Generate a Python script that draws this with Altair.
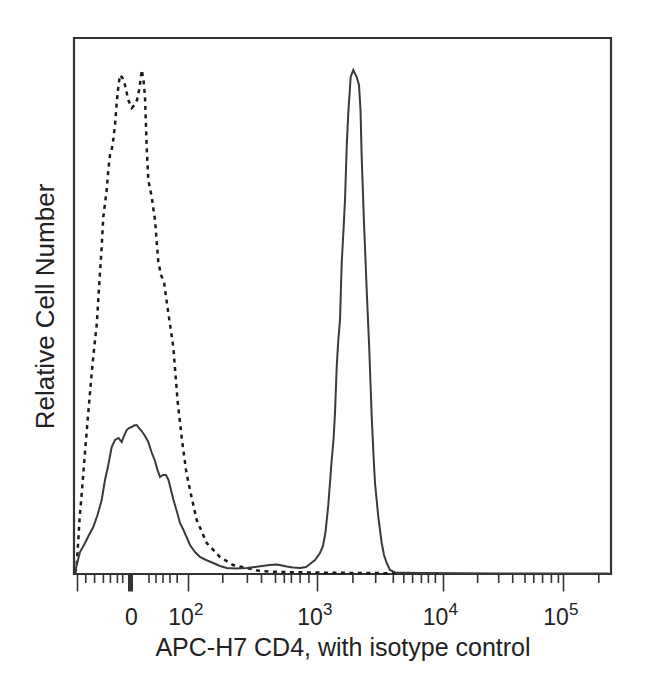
import altair as alt
import pandas as pd

# x: position along the biexponential display scale (0..537 display units)
# y: relative cell number (0..536 display units)
iso_x = [1, 2.5, 4, 5.5, 8, 11, 14.5, 17.7, 20.5, 22.7, 25.5, 27.5, 29.3, 32.7, 34.3, 36, 38, 39.5,
         41, 42.7, 44.5, 46, 48.5, 51, 54.3, 57.7, 60.5, 63, 65.5, 67.7, 69.5, 71, 72.7, 74.3, 77.7,
         81, 84.3, 87, 90, 94.3, 99.3, 103.5, 108, 112, 116, 122.7, 132.7, 146, 159, 172.7, 186,
         206, 236, 286, 366]
iso_y = [1, 6, 29, 54, 84, 122, 164, 201, 229, 249, 294, 324, 357, 384, 404, 419, 426, 436,
         449, 471, 489, 499, 496, 489, 474, 466, 469, 474, 486, 504, 494, 477, 427, 394, 377,
         354, 312, 299, 292, 261, 227, 174, 134, 104, 84, 54, 31, 17, 9, 6, 3,
         2, 1.5, 1, 0.5]

cd4_x = [1, 2.7, 6, 11, 15, 19.3, 23.5, 27.7, 31, 34.3, 37.7, 41, 44.5, 47.7, 50, 52.7, 55, 57.7,
         60, 62.7, 65, 67.7, 71, 74.3, 77.5, 81, 83.5, 86, 89, 92, 94.5, 97, 99.5, 103, 106, 109.5,
         113, 116, 121, 126, 132, 139.3, 146, 152.7, 162, 172.7, 181, 188, 196, 202.7, 208, 212.7,
         219, 226, 232, 236, 241, 246, 249, 251.5, 254.3, 257.7, 259.5, 261, 262.7, 264.3, 266,
         267.7, 269.5, 271, 272.7, 274.3, 276.7, 279.3, 282.7, 285, 286.5, 287.7, 290, 292.7,
         295.3, 297.7, 299.5, 301, 304.3, 307.7, 310, 312.7, 316, 321, 346, 426, 535]
cd4_y = [2, 9, 22, 31, 39, 47, 59, 74, 94, 109, 127, 134, 136, 132, 138, 144, 146, 147,
         148.5, 149, 146, 143, 138, 132, 122, 113, 104, 97, 99, 99, 94, 84, 74, 62, 51, 44,
         36, 29, 22, 17, 14, 11, 8, 6, 5.5, 6, 7, 8, 9, 9.5, 8.5, 7.5,
         6.5, 6, 7, 10, 14, 21, 28, 42, 69, 114, 134, 161, 207, 234, 254,
         311, 344, 374, 427, 461, 497, 504, 497, 489, 464, 417, 351, 284,
         224, 157, 119, 91, 57, 31, 19, 11, 4, 1.5, 1, 0.5, 0.5]

# axis ticks (display positions) and labels
major_ticks = [2.5, 55.5, 114, 243, 368.5, 489]
zero_tick = [55.5]
zero_label = ["0"]
decade_ticks = [114, 243, 368.5, 489]
decade_base = ["10", "10", "10", "10"]
decade_exp = ["2", "3", "4", "5"]
minor_ticks = [11.8, 20.6, 29.4, 36.4, 43.4, 48.7,
               75, 82, 89, 96, 103.2,
               148.8, 173.4, 187.5, 201.5, 210.3, 217.4, 226.1, 234.9,
               278.9, 301.7, 319.3, 329.8, 338.6, 347.4, 354.4, 361.4,
               403.6, 424.7, 438.7, 451, 459.8, 468.6, 477.4, 484.4,
               524.8]

iso = pd.DataFrame({"x": iso_x, "y": iso_y})
cd4 = pd.DataFrame({"x": cd4_x, "y": cd4_y})
minor_df = pd.DataFrame({"x": minor_ticks})
zero_df = pd.DataFrame({"x": zero_tick, "t": zero_label})
dec_df = pd.DataFrame({"x": decade_ticks, "b": decade_base, "e": decade_exp})

FONT = "Liberation Sans"
INK = "#222222"
H = 536

x_enc = alt.X(
    "x:Q",
    scale=alt.Scale(domain=[0, 537], nice=False, zero=False),
    axis=alt.Axis(
        title="APC-H7 CD4, with isotype control",
        values=major_ticks,
        labels=False,
        grid=False,
        domain=False,
        tickColor="#333333",
        tickWidth={"condition": {"test": "datum.value == 55.5", "value": 5}, "value": 1.6},
        tickSize=17,
        titleFont=FONT,
        titleFontSize=25,
        titleFontWeight="normal",
        titleColor=INK,
        titlePadding=42,
    ),
)

y_enc = alt.Y(
    "y:Q",
    scale=alt.Scale(domain=[0, 536], nice=False, zero=True),
    axis=alt.Axis(
        title="Relative Cell Number",
        ticks=False,
        labels=False,
        domain=False,
        grid=False,
        titleFont=FONT,
        titleFontSize=26,
        titleFontWeight="normal",
        titleColor=INK,
        titlePadding=16,
    ),
)

iso_line = alt.Chart(iso).mark_line(
    color="#1a1a1a", strokeWidth=2.5, strokeDash=[4, 4.5], interpolate="linear"
).encode(x=x_enc, y=y_enc)

cd4_line = alt.Chart(cd4).mark_line(
    color="#3a3a3a", strokeWidth=2, interpolate="linear"
).encode(x=x_enc, y=y_enc)

minor_rules = alt.Chart(minor_df).mark_rule(color="#333333", strokeWidth=1.6).encode(
    x=x_enc, y=alt.value(H), y2=alt.value(H + 9)
)

zero_text = alt.Chart(zero_df).mark_text(
    font=FONT, fontSize=23, color=INK, align="center", baseline="alphabetic", dx=2
).encode(x=x_enc, y=alt.value(H + 51), text="t:N")

dec_text = alt.Chart(dec_df).mark_text(
    font=FONT, fontSize=23, color=INK, align="center", baseline="alphabetic", dx=-7
).encode(x=x_enc, y=alt.value(H + 51), text="b:N")

exp_text = alt.Chart(dec_df).mark_text(
    font=FONT, fontSize=17, color=INK, align="left", baseline="alphabetic", dx=6
).encode(x=x_enc, y=alt.value(H + 41), text="e:N")

chart = alt.layer(iso_line, cd4_line, minor_rules, zero_text, dec_text, exp_text).properties(
    width=537,
    height=536,
    background="white",
    autosize=alt.AutoSizeParams(type="none"),
    padding={"left": 66, "top": 30, "right": 25, "bottom": 110},
).configure_view(stroke="#333333", strokeWidth=2.2)

chart.save("out.html", embed_options={"renderer": "svg", "actions": False})
